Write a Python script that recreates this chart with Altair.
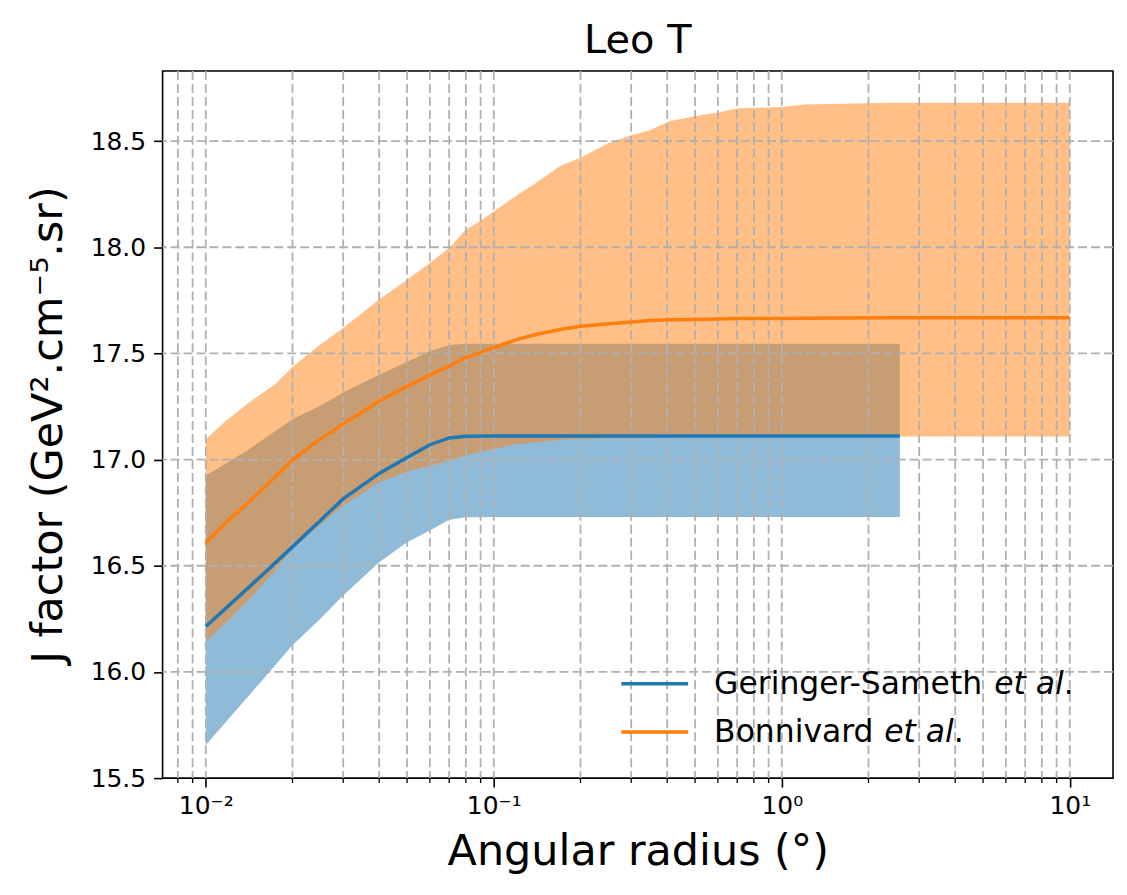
import altair as alt
import pandas as pd

# ---- data ----
gs_x = [0.01, 0.0141, 0.02, 0.025, 0.03, 0.04, 0.05, 0.06, 0.07, 0.08, 0.1, 0.2, 0.5, 1.0, 2.57]
gs_mid = [16.214, 16.398, 16.589, 16.713, 16.815, 16.935, 17.01, 17.07, 17.102, 17.110,
          17.111, 17.111, 17.111, 17.111, 17.111]
gs_lo = [15.656, 15.888, 16.126, 16.25, 16.36, 16.517, 16.611, 16.666, 16.717, 16.729,
         16.73, 16.73, 16.73, 16.73, 16.73]
gs_hi = [16.924, 17.048, 17.19, 17.253, 17.316, 17.40, 17.46, 17.51, 17.54, 17.545,
         17.545, 17.545, 17.545, 17.545, 17.545]

bn_x = [0.01, 0.0117, 0.0141, 0.0174, 0.02, 0.0245, 0.03, 0.04, 0.05, 0.06, 0.07, 0.08, 0.09,
        0.1, 0.12, 0.14, 0.17, 0.2, 0.25, 0.3, 0.35, 0.41, 0.5, 0.6, 0.7, 1.0, 1.2, 2.4, 5.0, 10.0]
bn_mid = [16.606, 16.700, 16.80, 16.918, 16.998, 17.088, 17.167, 17.276, 17.345, 17.398, 17.44,
          17.482, 17.505, 17.527, 17.565, 17.589, 17.613, 17.628, 17.640, 17.648, 17.655, 17.658,
          17.660, 17.662, 17.664, 17.665, 17.666, 17.668, 17.668, 17.668]
bn_lo = [16.142, 16.23, 16.34, 16.478, 16.583, 16.685, 16.783, 16.893, 16.943, 16.971, 16.994,
         17.02, 17.037, 17.05, 17.073, 17.08, 17.093, 17.097, 17.100, 17.101, 17.103, 17.104,
         17.105, 17.106, 17.107, 17.108, 17.108, 17.109, 17.109, 17.109]
bn_hi = [17.096, 17.18, 17.268, 17.355, 17.436, 17.534, 17.62, 17.754, 17.847, 17.926, 17.996,
         18.082, 18.125, 18.168, 18.244, 18.302, 18.383, 18.422, 18.49, 18.528, 18.552, 18.595,
         18.617, 18.635, 18.653, 18.661, 18.672, 18.68, 18.68, 18.68]

x_major = [0.01, 0.1, 1.0, 10.0]
x_minor = [0.008, 0.009,
           0.02, 0.03, 0.04, 0.05, 0.06, 0.07, 0.08, 0.09,
           0.2, 0.3, 0.4, 0.5, 0.6, 0.7, 0.8, 0.9,
           2, 3, 4, 5, 6, 7, 8, 9]
y_ticks = [15.5, 16.0, 16.5, 17.0, 17.5, 18.0, 18.5]

FONT = "DejaVu Sans"
BLUE = "#1f77b4"
ORANGE = "#ff7f0e"
GRID = "#b0b0b0"
W, H = 953, 709

gs = pd.DataFrame(dict(x=gs_x, mid=gs_mid, lo=gs_lo, hi=gs_hi))
bn = pd.DataFrame(dict(x=bn_x, mid=bn_mid, lo=bn_lo, hi=bn_hi))

xscale = alt.Scale(type="log", domain=[0.00708, 14.13], nice=False)
yscale = alt.Scale(domain=[15.5, 18.83], nice=False, zero=False)

xaxis = alt.Axis(
    values=x_major, grid=False, domain=False, tickSize=9, tickWidth=1.6, tickColor="black",
    labelExpr="datum.value < 0.05 ? '10⁻²' : datum.value < 0.5 ? '10⁻¹' : datum.value < 5 ? '10⁰' : '10¹'",
    labelFont=FONT, labelFontSize=25, labelColor="black", labelPadding=6, labelFlush=False,
    labelOverlap=False,
    title="Angular radius (°)", titleFont=FONT, titleFontSize=43, titleFontWeight="normal",
    titleColor="black", titleBaseline="alphabetic", titleY=87,
)
yaxis = alt.Axis(
    values=y_ticks, format=".1f", grid=False, domain=False, tickSize=9, tickWidth=1.6,
    tickColor="black", labelFont=FONT, labelFontSize=25, labelColor="black", labelPadding=8,
    labelFlush=False, labelOverlap=False,
    title="J factor (GeV².cm⁻⁵.sr)", titleFont=FONT, titleFontSize=43, titleFontWeight="normal",
    titleColor="black", titleAngle=270, titleBaseline="alphabetic", titleX=-101,
)

X = lambda f: alt.X(f, type="quantitative", scale=xscale, axis=xaxis)
Y = lambda f: alt.Y(f, type="quantitative", scale=yscale, axis=yaxis)

band_gs = alt.Chart(gs).mark_area(color=BLUE, opacity=0.5).encode(x=X("x"), y=Y("lo"), y2="hi")
band_bn = alt.Chart(bn).mark_area(color=ORANGE, opacity=0.5).encode(x=X("x"), y=Y("lo"), y2="hi")

vgrid = alt.Chart(pd.DataFrame({"g": x_major + x_minor})).mark_rule(
    color=GRID, strokeWidth=1.8, strokeDash=[9, 4]).encode(x=X("g"))
hgrid = alt.Chart(pd.DataFrame({"g": y_ticks[1:]})).mark_rule(
    color=GRID, strokeWidth=1.8, strokeDash=[9, 4]).encode(y=Y("g"))
minor_ticks = alt.Chart(pd.DataFrame({"g": x_minor})).mark_rule(
    color="black", strokeWidth=1.3).encode(x=X("g"), y=alt.value(H), y2=alt.value(H + 5))

line_gs = alt.Chart(gs).mark_line(color=BLUE, strokeWidth=3.5).encode(x=X("x"), y=Y("mid"))
line_bn = alt.Chart(bn).mark_line(color=ORANGE, strokeWidth=3.5).encode(x=X("x"), y=Y("mid"))

# ---- title and legend (no frame) ----
one = pd.DataFrame({"k": [0]})
title = alt.Chart(one).mark_text(font=FONT, fontSize=40, align="center", baseline="alphabetic",
                                 color="black").encode(
    x=alt.value(W / 2), y=alt.value(-18), text=alt.value("Leo T"))

LFS = 31.5
def legend_entry(color, ly, ty, name, name_em):
    name_w = name_em * LFS
    line = alt.Chart(one).mark_rule(color=color, strokeWidth=3.5).encode(
        x=alt.value(460), x2=alt.value(527), y=alt.value(ly))
    t1 = alt.Chart(one).mark_text(font=FONT, fontSize=LFS, align="left", baseline="alphabetic",
                                  color="black").encode(
        x=alt.value(553), y=alt.value(ty), text=alt.value(name))
    t2 = alt.Chart(one).mark_text(font=FONT, fontSize=LFS, fontStyle="italic", align="left",
                                  baseline="alphabetic", color="black").encode(
        x=alt.value(553 + name_w), y=alt.value(ty), text=alt.value("et al"))
    t3 = alt.Chart(one).mark_text(font=FONT, fontSize=LFS, align="left", baseline="alphabetic",
                                  color="black").encode(
        x=alt.value(553 + name_w + 2.216 * LFS), y=alt.value(ty), text=alt.value("."))
    return [line, t1, t2, t3]

leg = legend_entry(BLUE, 614.5, 625, "Geringer-Sameth", 8.916) + \
      legend_entry(ORANGE, 662.7, 672.7, "Bonnivard", 5.413)

chart = alt.layer(band_gs, band_bn, vgrid, hgrid, minor_ticks, line_gs, line_bn, title, *leg).properties(
    width=W, height=H,
    autosize=alt.AutoSizeParams(type="none"),
    padding={"left": 155, "top": 62, "right": 6, "bottom": 100},
).configure_view(stroke="black", strokeWidth=1.6)

chart.save("out.html", embed_options={"renderer": "svg", "actions": False})
